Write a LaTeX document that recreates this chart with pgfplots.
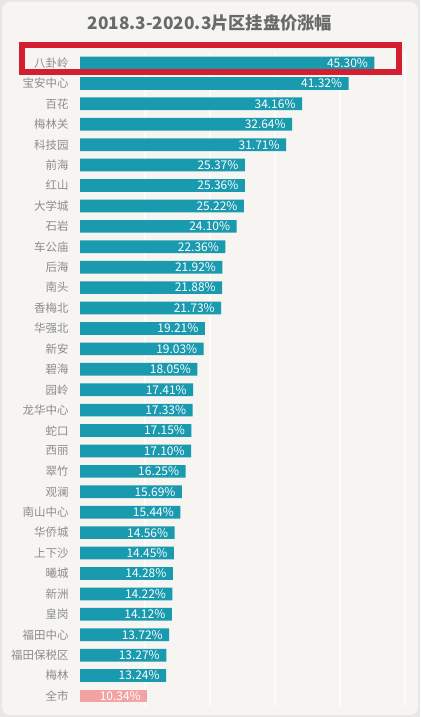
\documentclass[border=0pt]{standalone}
\usepackage{pgfplots}
\usepackage{pgfplotstable}
\pgfplotsset{compat=1.18}
\usepackage{fontspec}
\setmainfont{Noto Sans CJK SC}
\definecolor{bgc}{HTML}{F6F5F1}
\definecolor{edgec}{HTML}{E9E7E3}
\definecolor{barc}{HTML}{1A9AAE}
\definecolor{pinkc}{HTML}{F4A3A3}
\definecolor{labc}{HTML}{8C8C8C}
\definecolor{titc}{HTML}{6A6A6A}
\definecolor{redc}{HTML}{D41F30}
\definecolor{gridc}{HTML}{FCFCFA}
\pgfplotstableread{
idx val
0 45.30
1 41.32
2 34.16
3 32.64
4 31.71
5 25.37
6 25.36
7 25.22
8 24.10
9 22.36
10 21.92
11 21.88
12 21.73
13 19.21
14 19.03
15 18.05
16 17.41
17 17.33
18 17.15
19 17.10
20 16.25
21 15.69
22 15.44
23 14.56
24 14.45
25 14.28
26 14.22
27 14.12
28 13.72
29 13.27
30 13.24
}\districts
\begin{document}
\begin{tikzpicture}[x=1bp,y=1bp]
\fill[edgec] (0,0) rectangle (420,717);
\fill[bgc, rounded corners=8bp] (2,2) rectangle (418,715);
\begin{axis}[
  at={(80bp,10.8bp)}, anchor=south west,
  scale only axis, width=325bp, height=653.4bp,
  xmin=0, xmax=50, ymin=-0.5, ymax=31.5, y dir=reverse,
  axis line style={draw=none},
  major tick length=0pt,
  xtick={10,20,30,40,50}, xticklabels={},
  xmajorgrids, grid style={gridc, line width=2bp},
  ytick={0,...,31},
  yticklabels={八卦岭,宝安中心,百花,梅林关,科技园,前海,红山,大学城,石岩,车公庙,后海,南头,香梅北,华强北,新安,碧海,园岭,龙华中心,蛇口,西丽,翠竹,观澜,南山中心,华侨城,上下沙,曦城,新洲,皇岗,福田中心,福田保税区,梅林,全市},
  yticklabel style={font=\fontsize{11.5}{12}\selectfont, text=labc, xshift=-8bp},
  /pgf/number format/assume math mode=true,
  point meta=x,
  nodes near coords={\pgfmathprintnumber[fixed,fixed zerofill,precision=2]{\pgfplotspointmeta}\%},
  every node near coord/.append style={anchor=east, text=white, font=\fontsize{12}{13}\selectfont, xshift=-3bp},
]
\addplot[xbar, fill=barc, draw=none, bar width=12.7bp, bar shift=0pt] table[x=val,y=idx]{\districts};
\addplot[xbar, fill=pinkc, draw=none, bar width=12.7bp, bar shift=0pt] coordinates {(10.34,31)};
\end{axis}
\node[font=\bfseries\fontsize{17.3}{19}\selectfont, text=titc] at (210,694) {2018.3-2020.3片区挂盘价涨幅};
\draw[redc, line width=6bp] (21.5,671.5) rectangle (398.5,644.5);
\end{tikzpicture}
\end{document}
